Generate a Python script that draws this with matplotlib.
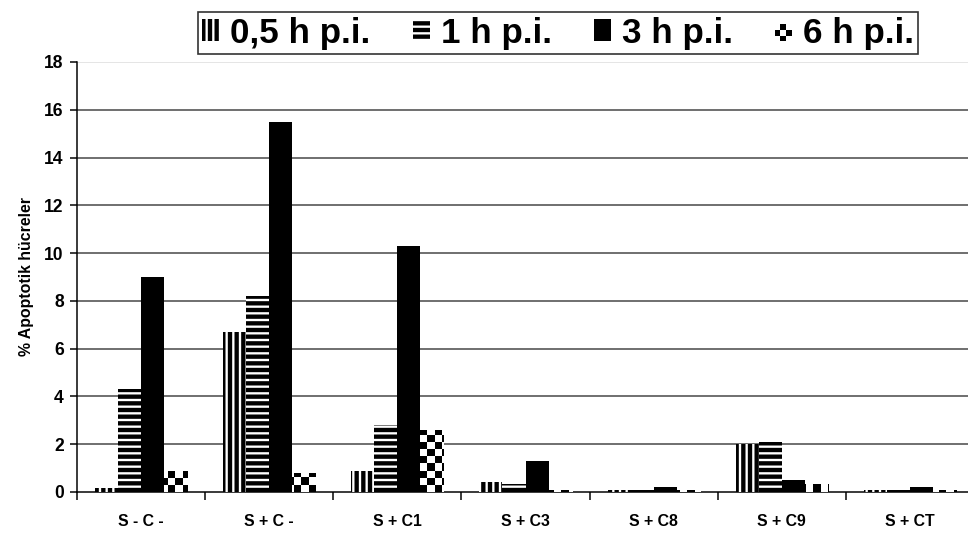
import numpy as np
import matplotlib
matplotlib.use("Agg")
import matplotlib.pyplot as plt
from matplotlib.patches import Rectangle


categories = ["S - C -", "S + C -", "S + C1", "S + C3", "S + C8", "S + C9", "S + CT"]
series_names = ["0,5 h p.i.", "1 h p.i.", "3 h p.i.", "6 h p.i."]

h05 = [0.15, 6.7, 0.9, 0.4, 0.1, 2.0, 0.1]
h1 = [4.3, 8.2, 2.8, 0.35, 0.1, 2.1, 0.1]
h3 = [9.0, 15.5, 10.3, 1.3, 0.2, 0.5, 0.2]
h6 = [0.9, 0.8, 2.6, 0.1, 0.1, 0.35, 0.1]

y_ticks = [0, 2, 4, 6, 8, 10, 12, 14, 16, 18]
y_label = "% Apoptotik hücreler"

DPI = 120
plt.rcParams["font.family"] = ["Liberation Sans", "DejaVu Sans"]
plt.rcParams["font.weight"] = "bold"
plt.rcParams["hatch.linewidth"] = 2.6


class CheckerHandler:
    # small 3x3 checkerboard used as legend key for the 6 h series
    def legend_artist(self, legend, orig_handle, fontsize, handlebox):
        x0, y0 = handlebox.xdescent, handlebox.ydescent
        w, h = handlebox.width, handlebox.height
        size = min(w, h)
        cell = size / 3
        last = None
        for i in range(3):
            for j in range(3):
                color = "black" if (i + j) % 2 else "white"
                last = Rectangle((x0 + (w - size) / 2 + i * cell, y0 + (h - size) / 2 + j * cell),
                                 cell, cell, facecolor=color, edgecolor="none",
                                 transform=handlebox.get_transform())
                handlebox.add_artist(last)
        return last


fig = plt.figure(figsize=(968 / DPI, 533 / DPI), dpi=DPI)
ax = fig.add_axes([77 / 968, 41 / 533, 897 / 968, 430 / 533])

x = np.arange(len(categories))
w = 0.18

bars05 = ax.bar(x - 1.5 * w, h05, w, facecolor="white", edgecolor="black",
                linewidth=0, hatch="|||", zorder=3)
bars1 = ax.bar(x - 0.5 * w, h1, w, facecolor="white", edgecolor="black",
               linewidth=0, hatch="---", zorder=3)
bars3 = ax.bar(x + 0.5 * w, h3, w, facecolor="black", edgecolor="black",
               linewidth=0, zorder=3)
bars6 = ax.bar(x + 1.5 * w, h6, w, facecolor="white", edgecolor="none",
               linewidth=0, zorder=3)

# checkerboard fill for the 6 h bars, clipped to each bar
rows, cols = 61, 128
checker = np.indices((rows, cols)).sum(axis=0) % 2
for bar in bars6:
    im = ax.imshow(checker, cmap="gray_r", extent=(-0.5, len(categories) - 0.5, 0, 18),
                   interpolation="nearest", aspect="auto", zorder=4)
    im.set_clip_path(bar)
ax.set_xlim(-0.5, len(categories) - 0.5)
ax.set_ylim(0, 18)

# grid
for yv in y_ticks[1:-1]:
    ax.axhline(yv, color="#444444", linewidth=0.9, zorder=1)
ax.axhline(y_ticks[-1], color="#dddddd", linewidth=0.9, zorder=1)

ax.spines["top"].set_visible(False)
ax.spines["right"].set_visible(False)
ax.spines["left"].set_linewidth(0.9)
ax.spines["bottom"].set_linewidth(0.9)

ax.set_yticks(y_ticks)
ax.set_yticklabels([str(v) for v in y_ticks], fontsize=10.5, fontweight="bold")
ax.tick_params(axis="y", length=4, width=0.9, pad=4)

ax.set_xticks(x)
ax.set_xticklabels(categories, fontsize=9.5, fontweight="bold")
ax.set_xticks(np.arange(-0.5, len(categories), 1.0), minor=True)
ax.tick_params(axis="x", which="major", length=0, pad=13)
ax.tick_params(axis="x", which="minor", length=5, width=0.9)

ax.set_ylabel(y_label, fontsize=9.5, fontweight="bold", labelpad=6)

handles = [
    Rectangle((0, 0), 1, 1, facecolor="white", edgecolor="black", linewidth=0, hatch="|||"),
    Rectangle((0, 0), 1, 1, facecolor="white", edgecolor="black", linewidth=0, hatch="---"),
    Rectangle((0, 0), 1, 1, facecolor="black", edgecolor="black", linewidth=0),
    Rectangle((0, 0), 1, 1, facecolor="white", edgecolor="none"),
]
leg = fig.legend(handles, series_names, loc="center", bbox_to_anchor=(558 / 968, 1 - 33 / 533),
                 ncol=4, frameon=True, fancybox=False, edgecolor="black",
                 handlelength=0.5, handleheight=0.6, handletextpad=0.3, columnspacing=1.2,
                 borderpad=0.12, prop={"weight": "bold", "size": 21},
                 handler_map={handles[3]: CheckerHandler()})
leg.get_frame().set_linewidth(1.0)

fig.savefig("out.png", dpi=DPI)
